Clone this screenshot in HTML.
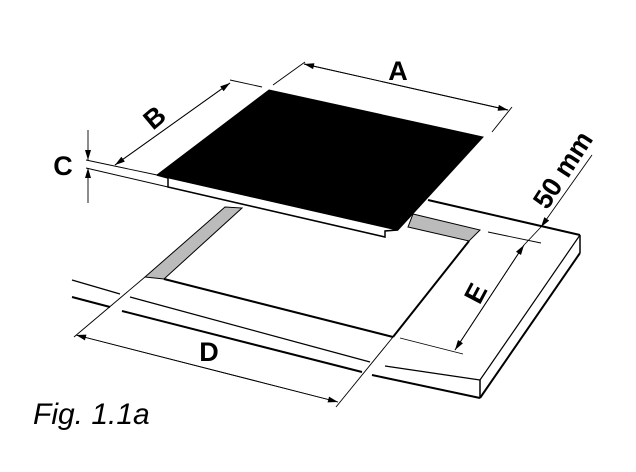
<!DOCTYPE html>
<html><head><style>
html,body{margin:0;padding:0;background:#fff;}
svg{display:block;}
text{font-family:"Liberation Sans",sans-serif;font-weight:bold;fill:#000;}
</style></head><body>
<svg width="636" height="472" viewBox="0 0 636 472" xmlns="http://www.w3.org/2000/svg">
<defs>
<marker id="ar" viewBox="0 0 10 6" refX="10" refY="3" markerWidth="11" markerHeight="6" orient="auto" markerUnits="userSpaceOnUse">
<path d="M0,0 L10,3 L0,6 Z" fill="#000"/>
</marker>
</defs>
<g stroke="#000" fill="none">
<line x1="72" y1="280" x2="120" y2="294" stroke-width="1.2"/>
<line x1="130" y1="297" x2="370" y2="362" stroke-width="1.2"/>
<line x1="385" y1="366" x2="480" y2="380" stroke-width="1.2"/>
<line x1="72" y1="297" x2="110" y2="307" stroke-width="2"/>
<line x1="122" y1="311" x2="362" y2="372" stroke-width="2"/>
<line x1="372" y1="375" x2="480" y2="398" stroke-width="2"/>
<line x1="428" y1="200" x2="580" y2="235" stroke-width="2"/>
<line x1="580" y1="235" x2="580" y2="253" stroke-width="1.5"/>
<line x1="580" y1="235" x2="480" y2="380" stroke-width="1.2"/>
<line x1="580" y1="253" x2="480" y2="398" stroke-width="2"/>
<line x1="480" y1="380" x2="480" y2="398" stroke-width="1.5"/>
<polygon points="225,207 242,208 164,279 145,277" fill="#bbb" stroke-width="1"/>
<polygon points="413,214 480,230 469,241 408,227" fill="#bbb" stroke-width="1"/>
<line x1="164" y1="279" x2="393" y2="337" stroke-width="2"/>
<line x1="469" y1="241" x2="393" y2="337" stroke-width="2"/>
<polygon points="157,175 168,178 168,187 385,237 385,231 398,230" fill="#fff" stroke-width="1.5"/>
<polygon points="269,90 483,137 398,230 157,175" fill="#000" stroke-width="1"/>
<g stroke-width="0.9">
<line x1="273" y1="85" x2="305" y2="62"/>
<line x1="492" y1="132" x2="512" y2="107"/>
<line x1="304" y1="64" x2="508" y2="110" marker-end="url(#ar)"/>
<line x1="508" y1="110" x2="304" y2="64" marker-end="url(#ar)"/>
<line x1="230" y1="80" x2="262" y2="87"/>
<line x1="230" y1="83" x2="115" y2="165" marker-end="url(#ar)"/>
<line x1="115" y1="165" x2="230" y2="83" marker-end="url(#ar)"/>
<line x1="86" y1="160" x2="157" y2="175"/>
<line x1="86" y1="168" x2="168" y2="187"/>
<line x1="88" y1="130" x2="88" y2="160" marker-end="url(#ar)"/>
<line x1="88" y1="203" x2="88" y2="168" marker-end="url(#ar)"/>
<line x1="592" y1="155" x2="541" y2="227" marker-end="url(#ar)"/>
<line x1="488" y1="232" x2="541" y2="243"/>
<line x1="400" y1="338" x2="463" y2="354"/>
<line x1="455" y1="350" x2="524" y2="245" marker-end="url(#ar)"/>
<line x1="524" y1="245" x2="455" y2="350" marker-end="url(#ar)"/>
<line x1="524" y1="245" x2="541" y2="227"/>
<line x1="145" y1="277" x2="74" y2="337"/>
<line x1="393" y1="337" x2="336" y2="407"/>
<line x1="338" y1="402" x2="76" y2="335" marker-end="url(#ar)"/>
<line x1="76" y1="335" x2="338" y2="402" marker-end="url(#ar)"/>
</g>
</g>
<text x="398" y="80" font-size="27" text-anchor="middle">A</text>
<text x="154" y="127" font-size="27" text-anchor="middle" transform="rotate(-40 154 117)">B</text>
<text x="63" y="175" font-size="27" text-anchor="middle">C</text>
<text x="563" y="179" font-size="27" text-anchor="middle" transform="rotate(-57 563 170)">50 mm</text>
<text x="475" y="303" font-size="27" text-anchor="middle" transform="rotate(-62 475 293)">E</text>
<text x="209" y="361" font-size="27" text-anchor="middle">D</text>
<text x="33" y="424" font-size="30" style="font-weight:normal;font-style:italic">Fig. 1.1a</text>
</svg>
</body></html>
